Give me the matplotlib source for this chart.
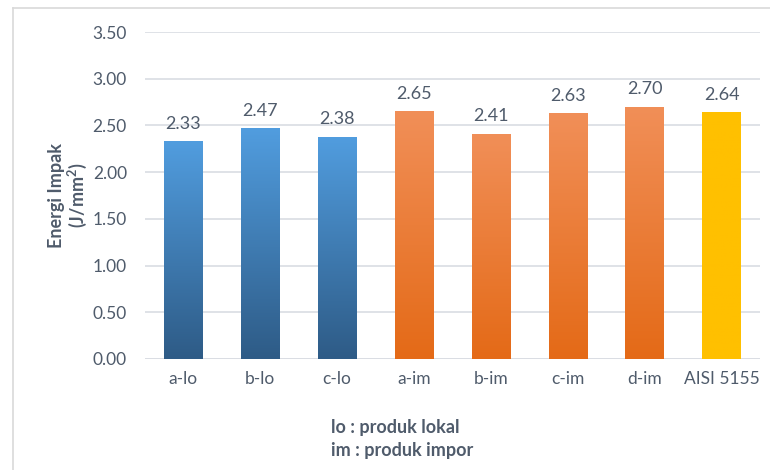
import numpy as np
import matplotlib
matplotlib.use("Agg")
import matplotlib.pyplot as plt
from matplotlib.colors import LinearSegmentedColormap
from matplotlib.lines import Line2D

plt.rcParams['font.family'] = ['Lato', 'DejaVu Sans']

# === DATA ===
categories = ['a-lo', 'b-lo', 'c-lo', 'a-im', 'b-im', 'c-im', 'd-im', 'AISI 5155']
energy = [2.33, 2.47, 2.38, 2.65, 2.41, 2.63, 2.70, 2.64]
groups = ['lo', 'lo', 'lo', 'im', 'im', 'im', 'im', 'ref']

# gradient colours (top, bottom) per group
grad = {
    'lo': ('#519ddf', '#2e5b86'),
    'im': ('#f18f58', '#e46a17'),
    'ref': ('#ffc000', '#ffc000'),
}
text_col = '#4f5b6b'
grid_col = '#d9dde3'

fig = plt.figure(figsize=(7.7, 4.7), dpi=100)
ax = fig.add_axes([0.1883, 0.2362, 0.7987, 0.6957])

x = np.arange(len(categories))
bars = ax.bar(x, energy, width=0.5, facecolor='none', edgecolor='none', zorder=3)

# fill every bar with a vertical gradient clipped to the bar
for b, g in zip(bars, groups):
    top, bot = grad[g]
    cmap = LinearSegmentedColormap.from_list(g, [bot, top])
    x0, w, h = b.get_x(), b.get_width(), b.get_height()
    im = ax.imshow(np.linspace(0, 1, 256).reshape(-1, 1), cmap=cmap,
                   extent=[x0, x0 + w, 0, h], origin='lower',
                   aspect='auto', zorder=3)
    im.set_clip_path(b)

for xi, v in zip(x, energy):
    ax.annotate(f'{v:.2f}', (xi, v), xytext=(0, 7), textcoords='offset points',
                ha='center', va='bottom', fontsize=13, color=text_col)

ax.set_xlim(-0.5, len(categories) - 0.5)
ax.set_ylim(0, 3.5)
ax.set_yticks(np.arange(0, 3.51, 0.5))
ax.set_yticklabels([f'{t:.2f}' for t in np.arange(0, 3.51, 0.5)])
ax.set_xticks(x)
ax.set_xticklabels(categories)
ax.tick_params(length=0, labelsize=12.5, colors=text_col)
ax.tick_params(axis='y', pad=13)
ax.tick_params(axis='x', pad=9)
ax.yaxis.grid(True, color=grid_col, linewidth=1.2, zorder=0)
ax.set_axisbelow(True)
for s in ax.spines.values():
    s.set_visible(False)
ax.axhline(0, color=grid_col, linewidth=1.2, zorder=2)

fig.text(0.089, 0.584, 'Energi Impak\n(J/mm$^\\mathregular{2}$)', rotation=90,
         ha='center', va='center', fontsize=13, fontweight='bold',
         color=text_col, linespacing=1.05)

fig.text(0.430, 0.09, 'lo : produk lokal', fontsize=13, fontweight='bold',
         color=text_col, va='center')
fig.text(0.430, 0.042, 'im : produk impor', fontsize=13, fontweight='bold',
         color=text_col, va='center')

# chart border
fig.add_artist(Line2D([13 / 770, 13 / 770], [0, 1 - 8 / 470],
                      transform=fig.transFigure, color='#d9d9d9', linewidth=1.2))
fig.add_artist(Line2D([13 / 770, 1], [1 - 8 / 470, 1 - 8 / 470],
                      transform=fig.transFigure, color='#d9d9d9', linewidth=1.2))

fig.savefig('out.png', dpi=100)
